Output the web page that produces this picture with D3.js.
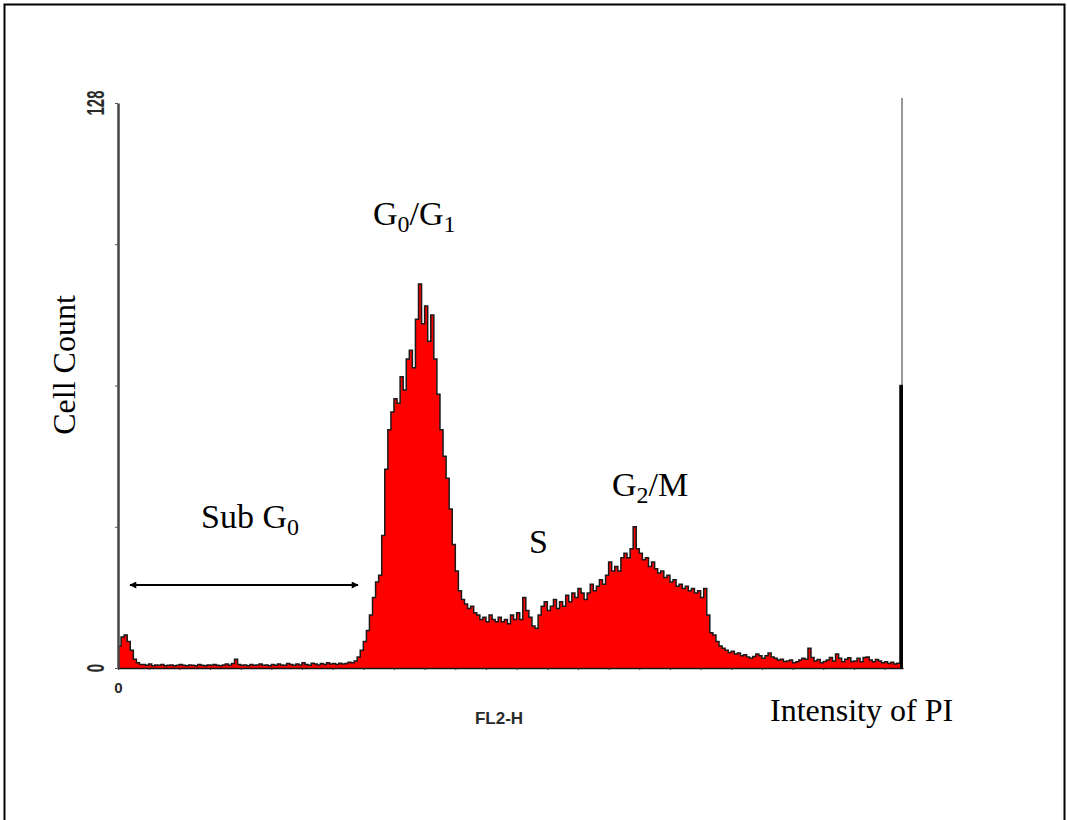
<!DOCTYPE html>
<html>
<head>
<meta charset="utf-8">
<script src="https://cdn.jsdelivr.net/npm/d3@7"></script>
<style>
  html, body { margin: 0; padding: 0; background: #fff; }
  svg { display: block; }
  .lbl { font-family: "Liberation Serif", "Times New Roman", serif; fill: #000; }
  .tick-lbl { font-family: "Liberation Sans", Arial, sans-serif; fill: #2a2a2a; }
</style>
</head>
<body>
<svg width="1067" height="820"></svg>
<script>
// FL2-H channel counts, 256 channels
const counts = [
  5, 7, 7.5, 6, 4, 2, 1.2, 0.8,
  0.8, 0.6, 0.9, 0.5, 0.7, 0.6, 0.8, 0.5, 0.6, 0.7,
  0.5, 0.6, 0.8, 0.6, 0.5, 0.7, 0.6, 0.5, 0.8, 0.6,
  0.5, 0.7, 0.6, 0.8, 0.6, 0.5, 0.7, 0.9, 0.6, 1.0,
  2.0, 0.8, 0.6, 0.7, 0.5, 0.8, 0.6, 0.7, 0.9, 0.6,
  0.7, 0.5, 0.8, 0.6, 0.9, 0.7, 0.6, 1.0, 0.8, 0.6,
  0.9, 0.7, 1.2, 0.8, 0.6, 1.1, 0.9, 0.7, 1.0, 0.8,
  1.2, 0.9, 1.0, 0.8, 1.1, 0.9, 1.0, 1.3, 1.2, 1.6,
  2.5, 4, 6, 8.5, 12, 16, 19.5, 21, 30, 45,
  54, 58, 61, 60, 66, 63, 70, 72, 68, 79,
  87, 78, 82, 74, 80, 70, 62, 54, 48, 43,
  36, 28, 22, 17.5, 15.5, 14.5, 13.5, 14, 12.5, 12,
  11, 11.5, 10.5, 12, 11, 10.5, 11.5, 10.5, 11, 10,
  12, 11, 12.5, 11, 16, 13, 11.5, 9.5, 9, 12,
  14, 15, 13, 14, 15.5, 13.5, 15, 14, 16.5, 15,
  17, 16, 18, 17, 15.5, 17, 19, 17.5, 18.5, 20,
  19, 21, 24, 22, 23, 22, 25, 26, 25, 27,
  32, 27, 26, 24.5, 25, 23, 24, 22.5, 21.5, 22,
  20.5, 21, 19.5, 20, 18.5, 19, 18, 18.5, 17.5, 18,
  17, 17.5, 16, 18, 12, 8, 7.5, 6, 5, 4.5,
  4, 3.5, 3.8, 3.2, 3.4, 2.8, 3, 2.5, 2.2, 2.6,
  3.2, 2.8, 2.2, 2.8, 3.4, 2.5, 2.2, 1.8, 2, 1.5,
  1.6, 1.8, 1.2, 1.4, 1.8, 2.2, 2.0, 4.5, 2.4, 1.6,
  1.9, 1.2, 1.5, 1.8, 2.4, 1.6, 3.2, 2.2, 1.4, 2.0,
  2.3, 1.5, 1.6, 2.2, 1.4, 2.4, 2.5, 1.8, 1.4, 1.9,
  1.6, 1.2, 1.4, 1.0, 1.3, 0.9, 1.1, 64
];

const yTicks = [0, 32, 64, 96, 128];
const yTickLabels = ["0", "128"];
const xTicks = d3.range(0, 256, 10);

const svg = d3.select("svg");

// outer frame
svg.append("rect")
  .attr("x", 4.5).attr("y", 4.5)
  .attr("width", 1060).attr("height", 830)
  .attr("fill", "none").attr("stroke", "#000").attr("stroke-width", 2);

const x = d3.scaleLinear().domain([0, 256]).range([118, 903]);
const y = d3.scaleLinear().domain([0, 128]).range([668, 103]);

const pts = counts.map((v, i) => ({ c: i, v }));
pts.push({ c: counts.length, v: counts[counts.length - 1] });

// right frame of the plot
svg.append("line")
  .attr("x1", x(256) - 1).attr("x2", x(256) - 1)
  .attr("y1", 98).attr("y2", y(0))
  .attr("stroke", "#777").attr("stroke-width", 1.5);

svg.append("path")
  .datum(pts)
  .attr("fill", "#ff0000")
  .attr("d", d3.area()
    .x(d => x(d.c))
    .y0(y(0))
    .y1(d => y(d.v))
    .curve(d3.curveStepAfter));

svg.append("path")
  .datum(pts)
  .attr("fill", "none")
  .attr("stroke", "#1a1a1a")
  .attr("stroke-width", 1.5)
  .attr("d", d3.line()
    .x(d => x(d.c))
    .y(d => y(d.v))
    .curve(d3.curveStepAfter));

// last channel pile-up drawn solid
svg.append("line")
  .attr("x1", x(255.5)).attr("x2", x(255.5))
  .attr("y1", y(counts[255])).attr("y2", y(0))
  .attr("stroke", "#000").attr("stroke-width", 3);

// x axis
const xAxis = svg.append("g")
  .attr("transform", `translate(0,${y(0)})`)
  .call(d3.axisBottom(x).tickValues(xTicks).tickSize(2).tickSizeOuter(0)
    .tickPadding(12).tickFormat(d => (d === 0 ? "0" : "")));
xAxis.select(".domain").attr("stroke", "#111").attr("stroke-width", 1.5);
xAxis.selectAll(".tick line").attr("stroke", "#333");
xAxis.selectAll("text")
  .attr("class", "tick-lbl")
  .style("font-size", "15px")
  .style("font-weight", "bold");

// y axis
const yAxis = svg.append("g")
  .attr("transform", `translate(${x(0)},0)`)
  .call(d3.axisLeft(y).tickValues(yTicks).tickSize(3).tickSizeOuter(0).tickFormat(""));
yAxis.select(".domain").attr("stroke", "#444").attr("stroke-width", 2.5);
yAxis.selectAll(".tick line").attr("stroke", "#555");

svg.selectAll(".ylab")
  .data(yTickLabels)
  .join("text")
  .attr("class", "tick-lbl")
  .attr("transform", d => `translate(104,${y(+d)}) rotate(-90) scale(0.65,1)`)
  .attr("text-anchor", "middle")
  .style("font-size", "23px")
  .style("font-weight", "bold")
  .text(d => d);

svg.append("text")
  .attr("class", "tick-lbl")
  .attr("x", 499).attr("y", 724)
  .attr("text-anchor", "middle")
  .style("font-size", "17px")
  .style("font-weight", "bold")
  .text("FL2-H");

// axis titles
svg.append("text")
  .attr("class", "lbl")
  .attr("transform", "translate(75,365) rotate(-90)")
  .attr("text-anchor", "middle")
  .style("font-size", "32px")
  .text("Cell Count");

svg.append("text")
  .attr("class", "lbl")
  .attr("x", 770).attr("y", 721)
  .style("font-size", "32px")
  .text("Intensity of PI");

// phase labels with subscripts
function phaseLabel(px, py, parts) {
  const t = svg.append("text").attr("class", "lbl")
    .attr("x", px).attr("y", py).style("font-size", "34px");
  let shift = 0;
  parts.forEach(p => {
    const s = t.append("tspan").text(p.t);
    const want = p.sub ? 7 : 0;
    s.attr("dy", want - shift);
    shift = want;
    if (p.sub) s.style("font-size", "24px");
  });
}

phaseLabel(373, 225, [{ t: "G" }, { t: "0", sub: true }, { t: "/G" }, { t: "1", sub: true }]);
phaseLabel(612, 496, [{ t: "G" }, { t: "2", sub: true }, { t: "/M" }]);
phaseLabel(529, 553, [{ t: "S" }]);
phaseLabel(201, 528, [{ t: "Sub G" }, { t: "0", sub: true }]);

// sub G0 range arrow
const defs = svg.append("defs");
defs.append("marker")
  .attr("id", "ah")
  .attr("viewBox", "0 0 10 10")
  .attr("refX", 9).attr("refY", 5)
  .attr("markerWidth", 8).attr("markerHeight", 7)
  .attr("markerUnits", "userSpaceOnUse")
  .attr("orient", "auto-start-reverse")
  .append("path")
  .attr("d", "M0,0L10,5L0,10Z")
  .attr("fill", "#000");

svg.append("line")
  .attr("x1", 130).attr("x2", 358)
  .attr("y1", 585).attr("y2", 585)
  .attr("stroke", "#000").attr("stroke-width", 2)
  .attr("marker-start", "url(#ah)")
  .attr("marker-end", "url(#ah)");
</script>
</body>
</html>
